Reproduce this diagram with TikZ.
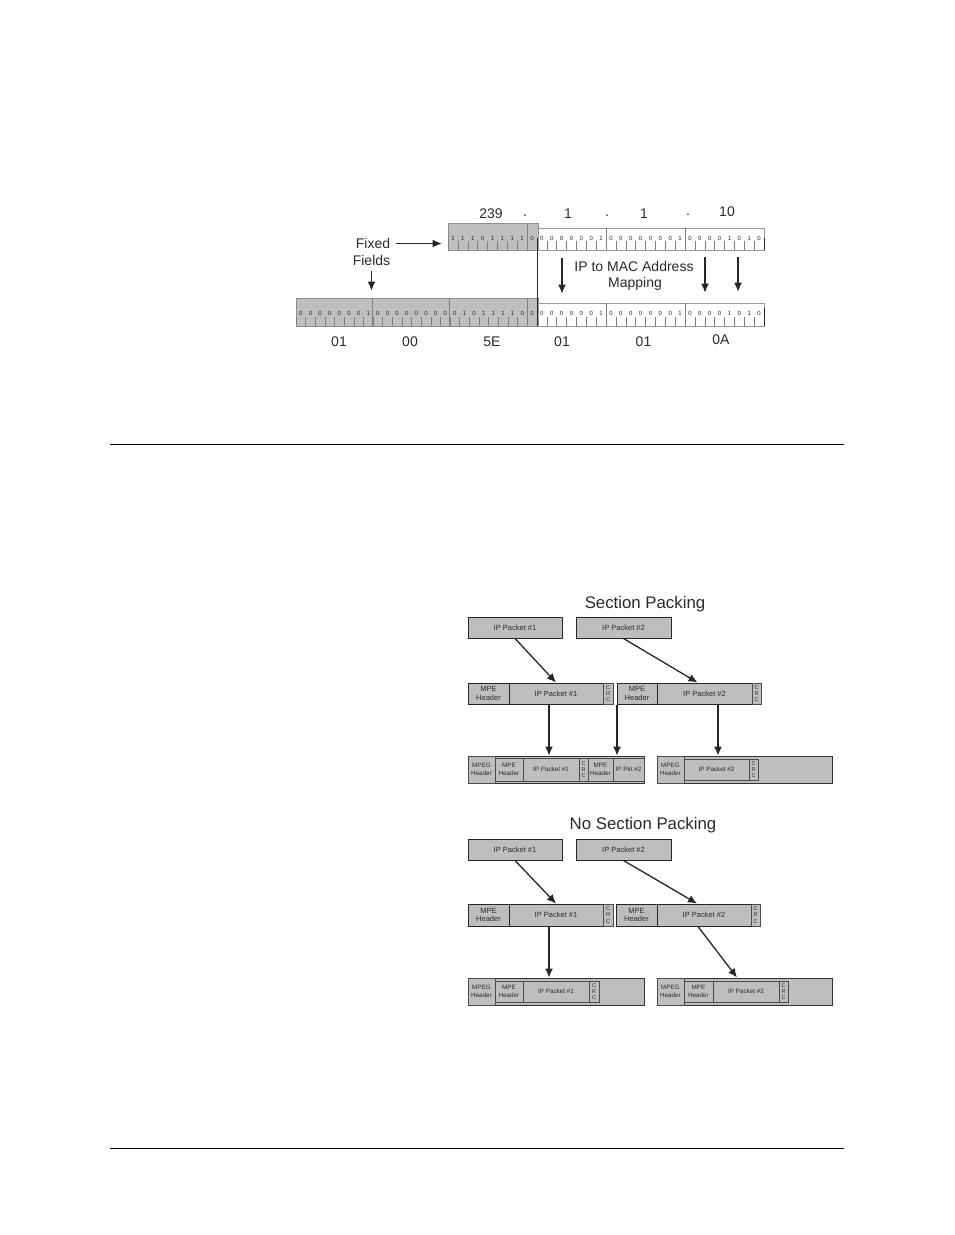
\documentclass[tikz,border=0pt]{standalone}
\usepackage{fontspec}
\setmainfont{Liberation Sans}
\usetikzlibrary{arrows.meta}
\definecolor{boxgrey}{HTML}{BEBEBE}
\definecolor{rulergrey}{HTML}{BFBFBF}
\definecolor{inkdark}{HTML}{2A2A2A}
\tikzset{
	pil/.style={-{Latex[length=9pt,width=8pt]}, line width=1.3pt, draw=black!85},
	box/.style={draw=black!85, fill=boxgrey, line width=1pt, inner sep=0pt, text=inkdark, align=center, font=\fontsize{7.5}{8.5}\selectfont},
	tiny/.style={box, draw=black!70, line width=.9pt, font=\fontsize{6.3}{7.5}\selectfont},
	crc/.style={box, draw=black!70, line width=.9pt, font=\fontsize{5.5}{6.2}\selectfont},
	frame/.style={draw=black!80, fill=boxgrey, line width=1pt, inner sep=0pt},
	white ruler/.style={draw=black!40, fill=white, line width=.8pt, inner sep=0pt},
	grey ruler/.style={draw=black!45, fill=rulergrey, line width=.8pt, inner sep=0pt},
	bitlab/.style={inner sep=0pt, text=inkdark, font=\fontsize{6}{6.5}\selectfont},
	bittick/.style={draw=black!50, line width=.5pt},
	lab/.style={inner sep=0pt, text=inkdark, font=\fontsize{14}{16}\selectfont},
	title/.style={inner sep=0pt, text=inkdark, font=\fontsize{16.8}{19}\selectfont},
	pagerule/.style={draw=black, line width=.9pt}
}
% name, first x, bit width, y of label, y of base, bits
\newcommand{\bitrow}[6]{
	\foreach \b [count=\i from 0] in {#6} {
		\node[bitlab] (#1\i) at ({#2+(\i+.5)*#3},#4) {\b};
		\draw[bittick] ({#2+\i*#3},#5) -- ({#2+\i*#3},#5-9);
	}
}
\begin{document}
\begin{tikzpicture}[x=1pt,y=-1pt]
	\useasboundingbox (0,0) rectangle (954,1235);

	% address mapping
	\node[grey ruler, minimum width=90, minimum height=27] (greytop) at (493,236.5) {};
	\node[white ruler, minimum width=226, minimum height=22] (whitetop) at (651,239) {};
	\node[grey ruler, minimum width=242, minimum height=28] (greylow) at (417,312) {};
	\node[white ruler, minimum width=226, minimum height=23] (whitelow) at (651,314.5) {};

	\bitrow{top}{448}{9.875}{238}{250}{1,1,1,0,1,1,1,1,0,0,0,0,0,0,0,1,0,0,0,0,0,0,0,1,0,0,0,0,1,0,1,0}
	\bitrow{lowa}{296}{9.625}{313}{326}{0,0,0,0,0,0,0,1,0,0,0,0,0,0,0,0,0,1,0,1,1,1,1,0}
	\bitrow{lowb}{527}{9.875}{313}{326}{0,0,0,0,0,0,0,1,0,0,0,0,0,0,0,1,0,0,0,0,1,0,1,0}
	\draw[bittick] (527,224) -- (527,250);
	\draw[bittick] (527,298) -- (527,326);
	\foreach \x in {606,685} {
		\draw[bittick] (\x,228) -- (\x,250);
		\draw[bittick] (\x,303) -- (\x,326);
	}
	\draw[bittick] (372.7,298) -- (372.7,326);
	\draw[bittick] (449,298) -- (449,326);
	\draw[line width=1pt, draw=black!85] (537.5,238) -- (537.5,326);
	\draw[line width=1pt, draw=black!85] (764,238) -- (764,250);
	\draw[line width=1pt, draw=black!85] (764,308) -- (764,326);

	\node[lab] (d1) at (491,213.5) {239};
	\node[lab] (p1) at (525,216) {.};
	\node[lab] (d2) at (568,213.5) {1};
	\node[lab] (p2) at (607,216) {.};
	\node[lab] (d3) at (644,213.5) {1};
	\node[lab] (p3) at (688,215) {.};
	\node[lab] (d4) at (727,211.5) {10};
	\node[lab] (h1) at (339,342) {01};
	\node[lab] (h2) at (410,342) {00};
	\node[lab] (h3) at (492,342) {5E};
	\node[lab] (h4) at (562,342) {01};
	\node[lab] (h5) at (643.5,342) {01};
	\node[lab] (h6) at (721,340) {0A};
	\node[lab] (fixedlab) at (373,243.5) {Fixed};
	\node[lab] (fieldslab) at (371.5,260.5) {Fields};
	\node[lab] (maplab) at (634,266) {IP to MAC Address};
	\node[lab] (mappinglab) at (635,284) {Mapping};

	\coordinate (mapa) at (562,258);
	\coordinate (mapb) at (705,257);
	\coordinate (mapc) at (738,257);
	\draw[pil, shorten >=6pt] (fixedlab.east) ++(6,0) -- (greytop.west |- fixedlab.east);
	\draw[pil, shorten <=5pt, shorten >=7pt] (fieldslab.south) -- (fieldslab.south |- greylow.north);
	\draw[pil, shorten >=9pt] (mapa) -- (mapa |- whitelow.north);
	\draw[pil, shorten >=10pt] (mapb) -- (mapb |- whitelow.north);
	\draw[pil, shorten >=11pt] (mapc) -- (mapc |- whitelow.north);

	\coordinate (rulea) at (110,444);
	\coordinate (ruleb) at (844,444);
	\coordinate (rulec) at (110,1148);
	\coordinate (ruled) at (844,1148);
	\draw[pagerule] (rulea) -- (ruleb);
	\draw[pagerule] (rulec) -- (ruled);

	% section packing
	\node[title] (titlea) at (645,604) {Section Packing};
	\node[box, minimum width=94, minimum height=21] (pkta) at (515,627.5) {IP Packet \#1};
	\node[box, minimum width=95, minimum height=21] (pktb) at (623.5,627.5) {IP Packet \#2};

	\node[box, minimum width=41, minimum height=21] (heada) at (488.5,693.5) {MPE\\Header};
	\node[box, minimum width=94, minimum height=21] (ipa) at (556,693.5) {IP Packet \#1};
	\node[crc, minimum width=10, minimum height=21] (crca) at (608,693.5) {C\\R\\C};
	\node[box, minimum width=40, minimum height=21] (headb) at (637,693.5) {MPE\\Header};
	\node[box, minimum width=95, minimum height=21] (ipb) at (704.5,693.5) {IP Packet \#2};
	\node[crc, minimum width=9, minimum height=21] (crcb) at (756.5,693.5) {C\\R\\C};

	\node[frame, minimum width=176, minimum height=27] (framea) at (556,769.5) {};
	\node[tiny, minimum width=27, minimum height=27] (mpega) at (481.5,769.5) {MPEG\\Header};
	\node[tiny, minimum width=28, minimum height=23] (subheada) at (509,769.5) {MPE\\Header};
	\node[tiny, minimum width=56, minimum height=23] (subipa) at (551,769.5) {IP Packet \#1};
	\node[crc, minimum width=9, minimum height=23] (subcrca) at (583.5,769.5) {C\\R\\C};
	\node[tiny, minimum width=25, minimum height=23] (subheadb) at (600.5,769.5) {MPE\\Header};
	\node[tiny, minimum width=31, minimum height=23] (subipb) at (628.5,769.5) {IP Pkt \#2};

	\node[frame, minimum width=175, minimum height=27] (frameb) at (744.5,769.5) {};
	\node[tiny, minimum width=27, minimum height=27] (mpegb) at (670.5,769.5) {MPEG\\Header};
	\node[tiny, minimum width=65, minimum height=21] (subipc) at (716.5,769.5) {IP Packet \#2};
	\node[crc, minimum width=9, minimum height=21] (subcrcc) at (753.5,769.5) {C\\R\\C};

	\draw[pil] (pkta.south) -- (ipa.north);
	\draw[pil] (pktb.south) -- ([xshift=-7pt]ipb.north);
	\draw[pil] ([xshift=-7pt]ipa.south) -- ([xshift=-7pt]framea.north);
	\draw[pil] ([xshift=.5pt]headb.south west) -- ([xshift=.5pt]headb.south west |- framea.north);
	\draw[pil] ([xshift=13.5pt]ipb.south) -- ([xshift=13.5pt]ipb.south |- frameb.north);

	% no section packing
	\node[title] (titleb) at (643,825) {No Section Packing};
	\node[box, minimum width=94, minimum height=21] (pktc) at (515,849.5) {IP Packet \#1};
	\node[box, minimum width=95, minimum height=21] (pktd) at (623.5,849.5) {IP Packet \#2};

	\node[box, minimum width=41, minimum height=22] (headc) at (488.5,915) {MPE\\Header};
	\node[box, minimum width=94, minimum height=22] (ipc) at (556,915) {IP Packet \#1};
	\node[crc, minimum width=10, minimum height=22] (crcc) at (608,915) {C\\R\\C};
	\node[box, minimum width=41, minimum height=22] (headd) at (636.5,915) {MPE\\Header};
	\node[box, minimum width=94, minimum height=22] (ipd) at (704,915) {IP Packet \#2};
	\node[crc, minimum width=9, minimum height=22] (crcd) at (755.5,915) {C\\R\\C};

	\node[frame, minimum width=176, minimum height=27] (framec) at (556,991.5) {};
	\node[tiny, minimum width=27, minimum height=27] (mpegc) at (481.5,991.5) {MPEG\\Header};
	\node[tiny, minimum width=28, minimum height=21] (subheadc) at (509,991.5) {MPE\\Header};
	\node[tiny, minimum width=66, minimum height=21] (subipd) at (556,991.5) {IP Packet \#1};
	\node[crc, minimum width=10, minimum height=21] (subcrcd) at (594,991.5) {C\\R\\C};

	\node[frame, minimum width=175, minimum height=27] (framed) at (744.5,991.5) {};
	\node[tiny, minimum width=27, minimum height=27] (mpegd) at (670.5,991.5) {MPEG\\Header};
	\node[tiny, minimum width=29, minimum height=21] (subheadd) at (698.5,991.5) {MPE\\Header};
	\node[tiny, minimum width=66, minimum height=21] (subipe) at (746,991.5) {IP Packet \#2};
	\node[crc, minimum width=9, minimum height=21] (subcrce) at (783.5,991.5) {C\\R\\C};

	\draw[pil] (pktc.south) -- (ipc.north);
	\draw[pil] (pktd.south) -- ([xshift=-7pt]ipd.north);
	\draw[pil] ([xshift=-7pt]ipc.south) -- ([xshift=-7pt]framec.north);
	\draw[pil] ([xshift=-6pt]ipd.south) -- ([xshift=-7.5pt]framed.north);
\end{tikzpicture}
\end{document}
